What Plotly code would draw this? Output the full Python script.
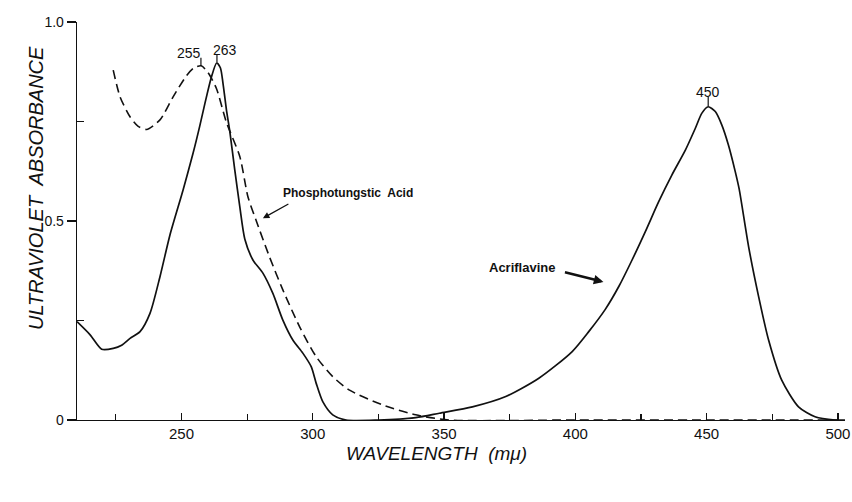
import plotly.graph_objects as go

# Acriflavine (solid) spectrum
acr_wl = [210.2, 215.2, 219.6, 224.0, 227.2, 230.4, 234.2, 238.0, 241.8, 245.6, 250.6, 254.4,
          256.9, 258.9, 261.4, 263.4, 264.8, 265.8, 267.1, 268.4, 270.3, 272.2, 274.1, 277.2,
          281.0, 284.8, 288.6, 292.4, 296.2, 299.4, 301.3, 303.8, 307.6, 312.7, 325.0, 339.2,
          348.2, 360.8, 373.5, 386.1, 398.8, 405.1, 411.4, 416.6, 421.6, 426.7, 431.7, 436.8,
          441.9, 445.7, 448.2, 450.6, 453.3, 455.8, 458.3, 460.9, 462.4, 466.0, 469.8, 473.6,
          478.6, 485.0, 491.3, 498.9, 502.7]
acr_abs = [0.247, 0.214, 0.178, 0.180, 0.188, 0.205, 0.222, 0.268, 0.360, 0.465, 0.578, 0.670,
           0.737, 0.795, 0.862, 0.897, 0.885, 0.846, 0.780, 0.725, 0.628, 0.536, 0.455, 0.402,
           0.369, 0.318, 0.251, 0.201, 0.168, 0.134, 0.092, 0.046, 0.013, 0.0, 0.0, 0.006,
           0.017, 0.033, 0.059, 0.105, 0.172, 0.222, 0.278, 0.336, 0.402, 0.474, 0.548, 0.616,
           0.678, 0.733, 0.771, 0.787, 0.775, 0.741, 0.691, 0.624, 0.580, 0.435, 0.310, 0.201,
           0.100, 0.033, 0.008, 0.0, 0.0]

# Phosphotungstic acid (dashed) spectrum
pta_wl = [224.0, 226.6, 230.4, 233.5, 236.7, 241.8, 246.8, 251.9, 254.6, 257.5, 260.2, 263.3, 267.1,
          272.2, 275.3, 278.5, 283.5, 288.6, 295.0, 301.3, 307.6, 314.0, 326.6, 339.2, 352.0, 400.0,
          450.0, 500.0]
pta_abs = [0.879, 0.812, 0.762, 0.738, 0.730, 0.754, 0.812, 0.865, 0.884, 0.890, 0.872, 0.833, 0.748,
           0.662, 0.561, 0.500, 0.410, 0.327, 0.234, 0.159, 0.109, 0.075, 0.038, 0.013, 0.0, 0.0,
           0.0, 0.0]

x_ticks = [250, 300, 350, 400, 450, 500]
y_ticks = [0, 0.5, 1.0]
y_ticktext = ["0", "0.5", "1.0"]

INK = "#111111"
FONT = "Liberation Sans, Arial, sans-serif"

W, H = 852, 502
L, R, T, B = 77, 7, 22, 82
X_RANGE = [210.2, 502.7]

fig = go.Figure()
fig.add_trace(go.Scatter(x=acr_wl, y=acr_abs, mode="lines",
                         line=dict(color=INK, width=1.7, shape="spline", smoothing=0.7),
                         name="Acriflavine", showlegend=False, hoverinfo="skip"))
fig.add_trace(go.Scatter(x=pta_wl, y=pta_abs, mode="lines",
                         line=dict(color=INK, width=1.6, dash="9px,5px", shape="spline", smoothing=0.7),
                         name="Phosphotungstic Acid", showlegend=False, hoverinfo="skip"))

# peak marker lines
for (xv, y0, y1) in [(257.4, 0.890, 0.910), (263.5, 0.898, 0.917), (450.6, 0.789, 0.812)]:
    fig.add_shape(type="line", x0=xv, x1=xv, y0=y0, y1=y1, xref="x", yref="y",
                  line=dict(color=INK, width=1.2))

def px_to_paper(px, py):
    return (px - L) / (W - L - R), 1 - (py - T) / (H - T - B)

ann = []
for (txt, xv, yv) in [("255", 253.0, 0.923), ("263", 266.4, 0.930), ("450", 450.4, 0.825)]:
    ann.append(dict(x=xv, y=yv, xref="x", yref="y", text=txt, showarrow=False,
                    font=dict(family=FONT, size=14, color=INK)))

px_, py_ = px_to_paper(348, 193)
ann.append(dict(x=px_, y=py_, xref="paper", yref="paper", text="<b>Phosphotungstic  Acid</b>",
                showarrow=False, font=dict(family=FONT, size=12, color=INK)))
ann.append(dict(x=281.0, y=0.507, xref="x", yref="y", text="", showarrow=True,
                ax=27, ay=-15, arrowhead=2, arrowsize=1, arrowwidth=1.3, arrowcolor=INK))
px_, py_ = px_to_paper(522, 267)
ann.append(dict(x=px_, y=py_, xref="paper", yref="paper", text="<b>Acriflavine</b>",
                showarrow=False, font=dict(family=FONT, size=13, color=INK)))
ann.append(dict(x=410.7, y=0.347, xref="x", yref="y", text="", showarrow=True,
                ax=-40, ay=-10, arrowhead=2, arrowsize=0.8, arrowwidth=2.4, arrowcolor=INK))

# axis titles as annotations
tx, ty = px_to_paper(436, 466)
ann.append(dict(x=tx, y=ty, xref="paper", yref="paper", text="<i>WAVELENGTH  (m\u03bc)</i>",
                showarrow=False, font=dict(family=FONT, size=19, color=INK)))
tx, ty = px_to_paper(23, 188)
ann.append(dict(x=tx, y=ty, xref="paper", yref="paper", text="<i>ULTRAVIOLET  ABSORBANCE</i>",
                showarrow=False, textangle=-90, font=dict(family=FONT, size=20, color=INK)))

fig.update_layout(
    width=W, height=H,
    margin=dict(l=L, r=R, t=T, b=B, autoexpand=False),
    paper_bgcolor="white", plot_bgcolor="white",
    showlegend=False,
    annotations=ann,
    font=dict(family=FONT, color=INK),
)
fig.update_xaxes(range=X_RANGE, showgrid=False, zeroline=False, automargin=False,
                 showline=True, linecolor=INK, linewidth=1.3,
                 tickvals=x_ticks, ticks="inside", ticklen=7, tickwidth=1.2, tickcolor=INK,
                 ticklabeloverflow="allow",
                 tickfont=dict(family=FONT, size=15, color=INK),
                 minor=dict(tick0=225, dtick=50, ticks="inside", ticklen=6, tickwidth=1.2, tickcolor=INK))
fig.update_yaxes(range=[0, 1.0], showgrid=False, zeroline=False, automargin=False,
                 showline=True, linecolor=INK, linewidth=1.3,
                 tickvals=y_ticks, ticktext=y_ticktext, ticks="outside", ticklen=9, tickwidth=1.2,
                 tickcolor=INK, tickfont=dict(family=FONT, size=14, color=INK),
                 minor=dict(tickvals=[0.25, 0.75], ticks="inside", ticklen=7, tickwidth=1.2, tickcolor=INK))

fig.write_html("out.html",
               config={"displayModeBar": False, "staticPlot": True},
               post_script="document.body.style.margin='0';"
                           "document.documentElement.style.overflow='hidden';"
                           "document.body.style.overflow='hidden';")
